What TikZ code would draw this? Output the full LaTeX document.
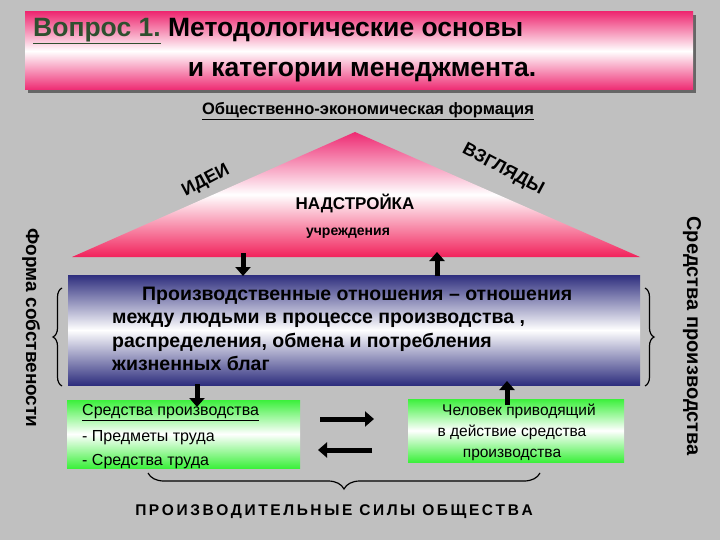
\documentclass[tikz,border=0pt]{standalone}
\usepackage{fontspec}
\setmainfont{Liberation Sans}
\usetikzlibrary{arrows.meta,decorations.pathreplacing}
\definecolor{bg}{HTML}{C0C0C0}
\definecolor{pk}{HTML}{EE2A72}
\definecolor{nv}{HTML}{2E2E7E}
\definecolor{gr}{HTML}{3CF03C}
\definecolor{dg}{HTML}{2F4F2F}
\begin{document}
\begin{tikzpicture}[x=1pt,y=-1pt,
  blk/.style={line width=5pt,-{Triangle[length=9pt,width=15pt]}},
  brc/.style={decorate,decoration={brace,amplitude=9pt},line width=1.2pt},
  txt/.style={inner sep=0pt}]
\useasboundingbox (0,0) rectangle (720,540);
\fill[bg] (0,0) rectangle (720,540);
% title
\fill[gray!80!black] (28,15) rectangle (696,93);
\shade[top color=pk,bottom color=pk,middle color=white] (25,12) rectangle (693,90);
\node[txt,font=\bfseries\fontsize{26.5}{28}\selectfont,anchor=west] (t1) at (33,31) {\textcolor{dg}{\underline{Вопрос 1.}} Методологические основы};
\node[txt,font=\bfseries\fontsize{26.5}{28}\selectfont] (t2) at (362,72) {и категории менеджмента.};
\node[txt,font=\bfseries\fontsize{16.5}{18}\selectfont] (f) at (368,111) {\underline{Общественно-экономическая формация}};
% triangle
\shade[top color=pk,bottom color=pk!80!red,middle color=white] (355,132) -- (640,257) -- (72,257) -- cycle;
\node[txt,font=\bfseries\fontsize{18}{20}\selectfont,rotate=28] (id) at (206,181) {ИДЕИ};
\node[txt,font=\bfseries\fontsize{18}{20}\selectfont,rotate=-28] (vz) at (503,170) {ВЗГЛЯДЫ};
\node[txt,font=\bfseries\fontsize{17}{19}\selectfont] (nd) at (355,203) {НАДСТРОЙКА};
\node[txt,font=\bfseries\fontsize{14}{16}\selectfont] (uc) at (348,233) {учреждения};
% blue box
\shade[top color=nv,bottom color=nv,middle color=white] (68,275) rectangle (640,385);
\node[txt,font=\bfseries\fontsize{19.5}{23.3}\selectfont,anchor=north west,align=left] (po) at (112,287)
{\hspace{30pt}Производственные отношения – отношения\\между людьми в процессе производства ,\\распределения, обмена и потребления\\жизненных благ};
\coordinate (a1) at (243,253); \coordinate (a2) at (243,276);
\draw[blk] (a1) -- (a2);
\coordinate (a3) at (437,276); \coordinate (a4) at (437,252);
\draw[blk] (a3) -- (a4);
% side braces
\coordinate (l1) at (62,386); \coordinate (l2) at (62,288);
\draw[brc] (l1) -- (l2);
\coordinate (r1) at (645,288); \coordinate (r2) at (645,386);
\draw[brc] (r1) -- (r2);
% green boxes
\shade[top color=gr,bottom color=gr,middle color=white] (67,400) rectangle (300,468);
\shade[top color=gr,bottom color=gr,middle color=white] (408,399) rectangle (624,462);
\node[txt,font=\fontsize{16}{18}\selectfont,anchor=west] (g1) at (82,413) {\underline{Средства производства}};
\node[txt,font=\fontsize{16}{18}\selectfont,anchor=west] (g2) at (82,438) {- Предметы труда};
\node[txt,font=\fontsize{16}{18}\selectfont,anchor=west] (g3) at (82,462) {- Средства труда};
\node[txt,font=\fontsize{15.5}{21}\selectfont,align=center] (ch) at (512,432) {\hspace{14pt}Человек приводящий\\в действие средства\\производства};
\coordinate (b1) at (197,384); \coordinate (b2) at (197,407);
\draw[blk] (b1) -- (b2);
\coordinate (b3) at (507,405); \coordinate (b4) at (507,381);
\draw[blk] (b3) -- (b4);
\coordinate (h1) at (320,419); \coordinate (h2) at (374,419);
\draw[blk] (h1) -- (h2);
\coordinate (h3) at (372,450); \coordinate (h4) at (318,450);
\draw[blk] (h3) -- (h4);
% bottom brace
\coordinate (d1) at (540,473); \coordinate (d2) at (148,473);
\draw[brc,decoration={brace,amplitude=16pt}] (d1) -- (d2);
\node[txt,font=\bfseries\fontsize{15.5}{17}\selectfont] (ps) at (334,512) {П\,Р\,О\,И\,З\,В\,О\,Д\,И\,Т\,Е\,Л\,Ь\,Н\,Ы\,Е\, С\,И\,Л\,Ы\, О\,Б\,Щ\,Е\,С\,Т\,В\,А};
% side texts
\node[txt,font=\bfseries\fontsize{19}{21}\selectfont,rotate=-90] (fs) at (31,328) {Форма собствености};
\node[txt,font=\bfseries\fontsize{20}{22}\selectfont,rotate=-90] (sp) at (692,336) {Средства производства};
\end{tikzpicture}
\end{document}
